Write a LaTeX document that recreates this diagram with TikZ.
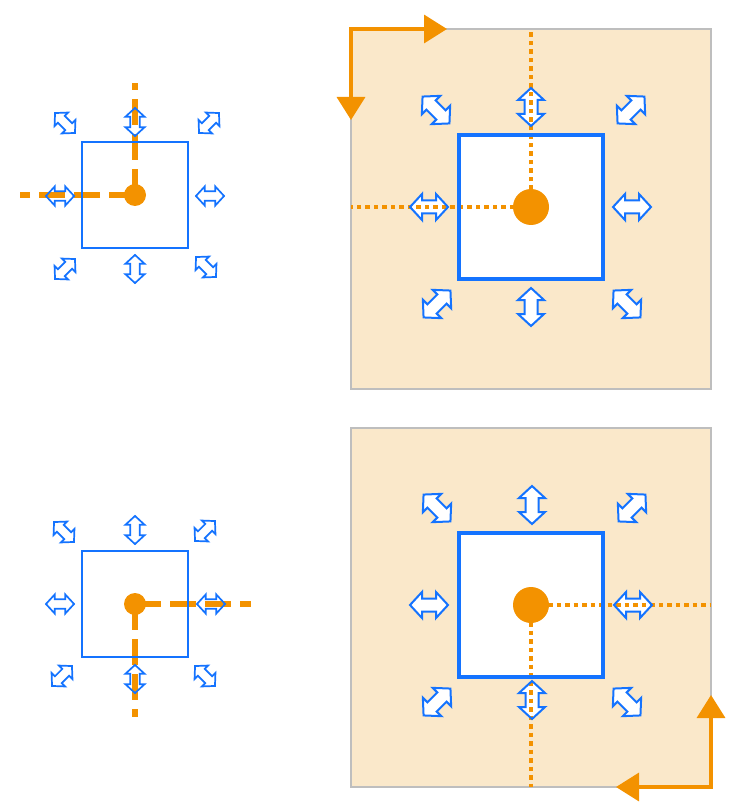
\documentclass[tikz,border=0pt]{standalone}
\usepackage{tikz}
\usetikzlibrary{calc,arrows.meta}

\definecolor{dotorange}{RGB}{243,146,0}
\definecolor{boxblue}{RGB}{20,115,255}
\definecolor{panelfill}{RGB}{250,232,202}
\definecolor{panelgray}{RGB}{190,190,190}

\tikzset{
  dbl/.pic={\path[pic actions] (-19,0) -- (-7,-13) -- (-7,-6.5) -- (7,-6.5) -- (7,-13) -- (19,0)
    -- (7,13) -- (7,6.5) -- (-7,6.5) -- (-7,13) -- cycle;},
  dashline/.style={dotorange,line width=6pt,dash pattern=on 26pt off 9pt},
  dotline/.style={dotorange,line width=4.5pt,dash pattern=on 4.5pt off 4pt},
  cornerline/.style={dotorange,line width=3.5pt,
    {Triangle[length=23pt,width=28pt]}-{Triangle[length=23pt,width=28pt]}},
}

% x / y / angle of the double arrows
\def\smallarrows{65/123/-45, 135/122/90, 209/123/45, 60/196/0, 210/196/0, 65/269/45, 135/269/90, 206/267/-45,
  64/532/-45, 135/530/90, 205/531/45, 60/604/0, 211/604/0, 62/676/45, 135/679/90, 205/676/-45}
\def\bigarrows{436/110/-45, 531/107/90, 631/110/45, 429/207/0, 632/207/0, 437/304/45, 531/307/90, 627/304/-45,
  437/508/-45, 532/505/90, 632/508/45, 429/605/0, 633/605/0, 437/702/45, 532/700/90, 627/702/-45}

\begin{document}
\begin{tikzpicture}[x=1pt,y=-1pt]
  \useasboundingbox (0,0) rectangle (734,810);

  \filldraw[fill=panelfill,draw=panelgray,line width=2.2pt] (351,29) rectangle (711,389);
  \filldraw[fill=panelfill,draw=panelgray,line width=2.2pt] (351,428) rectangle (711,787);

  \node (sa) at (135,195) {};
  \node (sb) at (135,604) {};
  \node (ba) at (531,207) {};
  \node (bb) at (531,605) {};
  \node (sal) at (20,195) {};
  \node (sat) at (135,83) {};
  \node (sbr) at (251,604) {};
  \node (sbd) at (135,717) {};
  \node (bal) at (351,207) {};
  \node (bat) at (531,29) {};
  \node (bbr) at (711,605) {};
  \node (bbd) at (531,787) {};

  \fill[white] ($(ba.center)+(-72,-72)$) rectangle ++(144,144);
  \fill[white] ($(bb.center)+(-72,-72)$) rectangle ++(144,144);

  \foreach \x/\y/\a in \smallarrows
    \pic[fill=white,rotate=\a,scale=.74] at (\x,\y) {dbl};
  \foreach \x/\y/\a in \bigarrows
    \pic[fill=white,rotate=\a] at (\x,\y) {dbl};

  \draw[dashline] (sa.center) -- (sal.center);
  \draw[dashline] (sa.center) -- (sat.center);
  \draw[dashline] (sb.center) -- (sbr.center);
  \draw[dashline] (sb.center) -- (sbd.center);
  \draw[dotline] (ba.center) -- (bal.center);
  \draw[dotline] (ba.center) -- (bat.center);
  \draw[dotline] (bb.center) -- (bbr.center);
  \draw[dotline] (bb.center) -- (bbd.center);

  \draw[boxblue,line width=2.8pt] ($(sa.center)+(-53,-53)$) rectangle ++(106,106);
  \draw[boxblue,line width=2.8pt] ($(sb.center)+(-53,-53)$) rectangle ++(106,106);
  \draw[boxblue,line width=3.2pt] ($(ba.center)+(-72,-72)$) rectangle ++(144,144);
  \draw[boxblue,line width=3.2pt] ($(bb.center)+(-72,-72)$) rectangle ++(144,144);

  \foreach \x/\y/\a in \smallarrows
    \pic[draw=boxblue,line width=1.7pt,rotate=\a,scale=.74] at (\x,\y) {dbl};
  \foreach \x/\y/\a in \bigarrows
    \pic[draw=boxblue,line width=2pt,rotate=\a] at (\x,\y) {dbl};

  \fill[dotorange] (sa.center) circle(11);
  \fill[dotorange] (sb.center) circle(11);
  \fill[dotorange] (ba.center) circle(18);
  \fill[dotorange] (bb.center) circle(18);

  % turning arrows at the panel corners
  \coordinate (tlv) at (351,120);
  \coordinate (tlh) at (447,29);
  \coordinate (brv) at (711,695);
  \coordinate (brh) at (616,787);
  \draw[cornerline] (tlv) |- (tlh);
  \draw[cornerline] (brv) |- (brh);
\end{tikzpicture}
\end{document}
